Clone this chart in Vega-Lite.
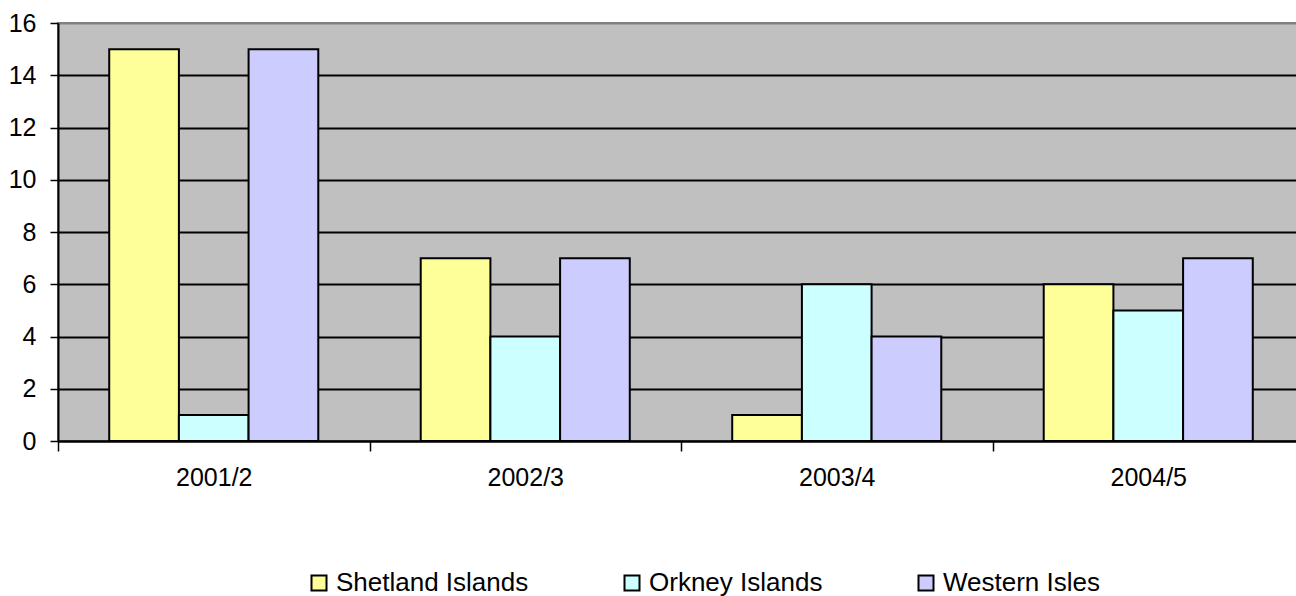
{
  "$schema": "https://vega.github.io/schema/vega-lite/v6.json",
  "autosize": "none",
  "width": 1246,
  "height": 418,
  "padding": {"left": 58, "top": 23, "right": 0, "bottom": 155},
  "background": "white",
  "config": {
    "font": "Liberation Sans",
    "view": {"fill": "#C0C0C0", "stroke": "#808080", "strokeWidth": 2},
    "axis": {"labelColor": "black", "labelFont": "Liberation Sans", "labelFontSize": 25, "domainColor": "black", "tickColor": "black", "gridColor": "black"}
  },
  "data": {
    "values": [
      {"year": "2001/2", "area": "Shetland Islands", "value": 15},
      {"year": "2001/2", "area": "Orkney Islands", "value": 1},
      {"year": "2001/2", "area": "Western Isles", "value": 15},
      {"year": "2002/3", "area": "Shetland Islands", "value": 7},
      {"year": "2002/3", "area": "Orkney Islands", "value": 4},
      {"year": "2002/3", "area": "Western Isles", "value": 7},
      {"year": "2003/4", "area": "Shetland Islands", "value": 1},
      {"year": "2003/4", "area": "Orkney Islands", "value": 6},
      {"year": "2003/4", "area": "Western Isles", "value": 4},
      {"year": "2004/5", "area": "Shetland Islands", "value": 6},
      {"year": "2004/5", "area": "Orkney Islands", "value": 5},
      {"year": "2004/5", "area": "Western Isles", "value": 7}
    ]
  },
  "mark": {"type": "bar", "stroke": "black", "strokeWidth": 2, "opacity": 1},
  "encoding": {
    "x": {
      "field": "year", "type": "nominal", "sort": null,
      "scale": {"paddingInner": 0, "paddingOuter": 0},
      "axis": {"title": null, "labelAngle": 0, "domainWidth": 2, "tickWidth": 1.5, "tickSize": 10, "tickBand": "extent", "labelPadding": 14, "grid": false}
    },
    "xOffset": {
      "field": "area", "type": "nominal", "sort": ["Shetland Islands", "Orkney Islands", "Western Isles"],
      "scale": {"paddingInner": 0, "paddingOuter": 0.735}
    },
    "y": {
      "field": "value", "type": "quantitative",
      "scale": {"domain": [0, 16], "nice": false},
      "axis": {"title": null, "values": [0, 2, 4, 6, 8, 10, 12, 14, 16], "domainWidth": 2, "gridWidth": 2,
        "gridColor": {"condition": {"test": "datum.value == 16", "value": "#808080"}, "value": "black"},
        "tickWidth": 1.5, "tickSize": 8, "labelPadding": 14}
    },
    "fill": {
      "field": "area", "type": "nominal", "sort": ["Shetland Islands", "Orkney Islands", "Western Isles"],
      "scale": {"domain": ["Shetland Islands", "Orkney Islands", "Western Isles"], "range": ["#FFFF99", "#CCFFFF", "#CCCCFF"]},
      "legend": {
        "title": null, "orient": "none", "direction": "horizontal",
        "legendX": 248, "legendY": 547,
        "symbolType": "square", "symbolSize": 225, "symbolStrokeColor": "black", "symbolStrokeWidth": 2, "symbolOpacity": 1,
        "labelFont": "Liberation Sans", "labelFontSize": 26, "labelColor": "black", "labelOffset": 4, "labelLimit": 400,
        "columnPadding": 90, "padding": 0
      }
    }
  }
}
